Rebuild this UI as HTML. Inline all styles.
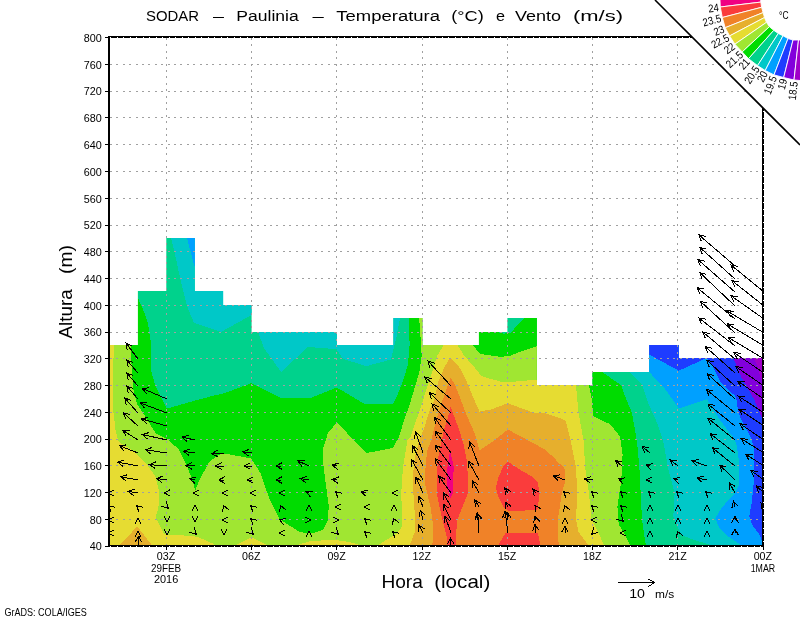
<!DOCTYPE html>
<html><head><meta charset="utf-8"><style>html,body{margin:0;padding:0;background:#fff;overflow:hidden}svg{display:block;will-change:transform}</style></head>
<body><svg width="800" height="618" viewBox="0 0 800 618">
<rect width="800" height="618" fill="#fff"/>
<defs><clipPath id="m"><polygon points="109.0,546.0 109.0,345.0 137.9,345.0 137.9,291.0 166.3,291.0 166.3,238.0 194.8,238.0 194.8,291.0 223.2,291.0 223.2,305.0 251.6,305.0 251.6,332.0 336.9,332.0 336.9,345.0 393.4,345.0 393.4,318.0 422.4,318.0 422.4,345.0 478.9,345.0 478.9,332.0 507.4,332.0 507.4,318.0 536.9,318.0 536.9,385.0 592.4,385.0 592.4,372.0 649.2,372.0 649.2,345.0 678.8,345.0 678.8,358.0 763.0,358.0 763.0,546.0"/></clipPath></defs>
<g clip-path="url(#m)" shape-rendering="crispEdges">
<polygon points="109.0,546.0 109.0,345.0 137.9,345.0 137.9,291.0 166.3,291.0 166.3,238.0 194.8,238.0 194.8,291.0 223.2,291.0 223.2,305.0 251.6,305.0 251.6,332.0 336.9,332.0 336.9,345.0 393.4,345.0 393.4,318.0 422.4,318.0 422.4,345.0 478.9,345.0 478.9,332.0 507.4,332.0 507.4,318.0 536.9,318.0 536.9,385.0 592.4,385.0 592.4,372.0 649.2,372.0 649.2,345.0 678.8,345.0 678.8,358.0 763.0,358.0 763.0,546.0" fill="rgb(0,210,140)"/>
<polygon points="109.0,546.0 109.0,280.0 137.9,280.0 137.9,298.0 145.0,314.0 148.0,324.0 150.5,340.0 150.6,369.0 155.5,386.0 161.3,398.0 167.1,408.6 190.4,401.8 213.8,395.6 225.0,393.0 251.3,383.2 281.0,398.0 310.5,398.0 336.8,387.5 364.8,404.1 392.8,404.1 397.4,395.0 403.1,380.5 408.0,364.3 409.6,345.0 409.0,318.0 409.0,300.0 496.7,300.0 496.7,332.0 503.9,333.6 510.3,333.0 524.1,318.0 524.1,300.0 602.0,300.0 602.0,372.0 621.0,385.0 625.0,396.0 632.0,413.0 637.0,441.7 639.4,467.6 640.7,493.4 642.0,519.3 645.9,546.0" fill="rgb(0,220,0)"/>
<polygon points="109.0,546.0 109.0,340.0 131.2,340.0 131.2,359.0 133.0,388.0 137.0,403.8 145.8,417.4 155.5,433.0 166.7,438.7 178.8,449.4 186.6,465.0 192.4,480.5 195.3,490.2 200.0,478.5 209.9,461.0 221.5,453.3 230.5,454.6 251.2,458.5 260.3,472.8 269.3,498.6 279.7,519.3 300.3,532.4 313.8,533.0 323.4,529.6 327.5,521.4 328.8,506.4 323.6,467.6 322.8,448.8 328.0,433.0 336.8,422.5 366.5,453.1 392.8,447.9 399.0,437.1 403.9,420.9 409.6,404.7 414.4,388.6 419.3,372.4 421.7,356.2 420.7,338.9 419.1,318.0 419.1,300.0 472.8,300.0 472.8,345.0 479.9,353.7 487.0,355.0 501.3,356.9 510.3,355.6 520.9,351.4 536.9,346.2 536.9,385.0 589.0,385.0 592.0,400.0 593.0,416.0 605.0,422.0 609.6,423.6 620.0,436.5 622.6,454.6 621.3,480.5 617.4,506.4 618.7,524.5 625.2,534.8 630.3,546.0" fill="rgb(160,230,50)"/>
<polygon points="109.0,546.0 109.0,340.0 113.7,340.0 113.7,345.0 112.8,407.7 115.7,431.0 118.6,441.7 134.0,451.4 145.8,463.0 155.5,476.6 159.4,492.0 158.4,507.7 155.5,517.4 163.3,533.0 167.1,534.9 192.4,535.8 200.0,537.9 213.8,544.0 216.0,546.0" fill="rgb(230,220,50)"/>
<polygon points="234.4,546.0 251.6,537.2 268.8,546.0" fill="rgb(230,220,50)"/>
<polygon points="293.5,546.0 310.0,541.3 327.5,540.0 341.3,540.6 355.0,543.4 362.0,546.0" fill="rgb(230,220,50)"/>
<polygon points="377.0,546.0 385.3,540.6 396.3,533.8 401.8,526.9 402.1,514.7 401.2,493.4 403.0,466.7 407.5,440.0 410.4,437.1 416.0,420.9 421.7,404.7 426.6,388.6 432.2,372.4 437.1,356.2 443.6,345.0 443.6,300.0 457.3,300.0 457.3,345.0 464.6,356.2 475.1,368.0 481.3,375.8 491.0,379.0 501.5,381.8 507.9,382.4 520.9,380.9 536.9,379.9 536.9,385.0 576.0,385.0 578.6,413.3 583.8,441.7 585.1,467.6 589.0,493.4 591.5,519.3 599.3,534.8 604.5,546.0" fill="rgb(230,220,50)"/>
<polygon points="118.5,546.0 137.3,526.5 152.5,546.0" fill="rgb(230,175,45)"/>
<polygon points="409.2,546.0 411.9,539.6 414.6,532.5 414.6,511.1 412.8,484.5 413.7,466.7 415.5,454.6 418.9,441.0 423.8,429.4 426.7,419.7 429.7,410.0 433.3,402.5 435.1,396.7 436.7,388.9 438.7,380.5 443.6,369.1 450.0,357.0 459.9,368.0 465.8,379.7 471.0,392.0 476.2,404.4 479.5,411.5 491.0,409.5 507.9,403.2 533.2,412.6 545.0,413.3 562.6,419.0 565.7,421.0 570.9,441.7 576.0,467.6 577.3,493.4 576.0,519.3 578.6,532.2 589.0,546.0" fill="rgb(230,175,45)"/>
<polygon points="432.4,546.0 433.2,525.4 430.6,507.6 425.2,484.5 425.4,469.1 426.2,459.4 427.6,449.7 431.5,439.5 434.0,429.4 436.4,419.7 440.0,409.0 442.5,400.5 445.2,392.8 447.9,385.0 450.8,377.2 455.8,386.9 459.0,395.0 462.7,404.7 465.6,412.5 470.0,423.0 473.3,430.0 476.8,440.0 479.5,450.5 493.2,441.1 507.9,429.5 533.2,443.2 545.0,449.5 554.2,457.9 557.9,462.4 564.4,467.6 565.4,480.9 561.8,493.4 557.9,519.3 557.9,540.0 560.0,546.0" fill="rgb(240,130,40)"/>
<polygon points="446.6,546.0 446.6,536.0 441.2,514.7 436.8,493.4 436.8,469.1 437.8,459.4 439.8,449.7 441.8,440.0 444.2,429.4 447.9,417.3 450.3,406.4 454.9,418.0 459.2,430.0 463.6,444.6 466.5,459.1 467.9,475.6 467.9,493.4 460.8,511.1 457.3,520.0 455.5,539.6 455.5,546.0" fill="rgb(250,60,60)"/>
<polygon points="507.6,461.4 520.9,470.2 533.4,477.4 537.8,482.7 539.6,493.4 537.8,507.6 537.0,510.3 508.5,510.8 504.0,507.6 497.8,495.2 496.0,488.0 497.8,479.1 503.1,466.7" fill="rgb(250,60,60)"/>
<polygon points="497.8,546.0 505.8,532.5 537.8,532.5 540.5,546.0" fill="rgb(250,60,60)"/>
<polygon points="450.1,450.7 453.7,466.7 452.8,493.4 450.1,498.7 446.6,484.5 447.5,466.7" fill="rgb(240,0,130)"/>
<polygon points="171.0,230.0 171.0,238.0 174.0,250.0 181.0,282.0 187.0,306.0 194.0,323.0 221.0,332.0 251.6,315.0 251.6,320.0 258.0,332.0 264.0,348.0 281.0,372.0 308.0,347.0 336.5,349.2 343.0,358.9 366.3,366.1 390.9,359.6 396.1,338.9 400.0,318.0 400.0,230.0" fill="rgb(0,200,200)"/>
<polygon points="630.0,300.0 630.0,372.0 642.0,385.0 649.0,405.0 658.0,425.0 663.0,440.0 668.0,467.6 674.6,493.4 673.3,516.7 681.0,534.8 694.0,540.0 714.6,546.0 763.0,546.0 763.0,300.0" fill="rgb(0,200,200)"/>
<polygon points="187.0,238.0 195.0,238.0 195.0,267.0 194.4,266.0" fill="rgb(0,160,255)"/>
<polygon points="649.2,300.0 649.2,372.0 665.0,389.0 674.0,401.5 679.0,408.5 707.0,399.0 713.7,410.8 720.0,420.2 727.3,429.7 734.7,439.2 736.8,445.5 738.5,457.8 739.4,484.5 734.9,493.4 727.8,500.5 720.7,509.4 715.3,518.3 718.9,527.2 727.8,536.1 738.5,543.3 742.0,546.0 763.0,546.0 763.0,300.0" fill="rgb(0,160,255)"/>
<polygon points="649.2,300.0 649.2,354.6 678.8,370.7 706.7,358.0 712.4,366.2 720.5,382.4 730.2,392.1 734.7,395.0 736.8,401.3 737.9,409.7 741.0,419.2 746.3,428.6 751.5,439.2 753.6,447.6 753.8,458.0 753.6,484.5 751.8,502.3 749.2,516.6 752.7,525.5 758.1,532.6 761.6,539.7 763.0,541.0 763.0,300.0" fill="rgb(30,60,255)"/>
<polygon points="733.4,300.0 733.4,358.0 736.7,366.2 741.5,377.5 748.0,388.8 754.5,400.2 759.3,411.5 763.0,421.3 763.0,300.0" fill="rgb(130,0,220)"/>
<polygon points="753.6,358.0 757.7,366.2 760.9,379.1 763.0,382.4 763.0,358.0" fill="rgb(160,0,200)"/>
</g>
<g stroke="#a0a0a0" stroke-width="1" stroke-dasharray="2 4.4" shape-rendering="crispEdges"><line x1="110" y1="519.5" x2="762" y2="519.5"/><line x1="110" y1="492.5" x2="762" y2="492.5"/><line x1="110" y1="465.5" x2="762" y2="465.5"/><line x1="110" y1="439.5" x2="762" y2="439.5"/><line x1="110" y1="412.5" x2="762" y2="412.5"/><line x1="110" y1="385.5" x2="762" y2="385.5"/><line x1="110" y1="358.5" x2="762" y2="358.5"/><line x1="110" y1="332.5" x2="762" y2="332.5"/><line x1="110" y1="305.5" x2="762" y2="305.5"/><line x1="110" y1="278.5" x2="762" y2="278.5"/><line x1="110" y1="251.5" x2="762" y2="251.5"/><line x1="110" y1="225.5" x2="762" y2="225.5"/><line x1="110" y1="198.5" x2="762" y2="198.5"/><line x1="110" y1="171.5" x2="762" y2="171.5"/><line x1="110" y1="144.5" x2="762" y2="144.5"/><line x1="110" y1="117.5" x2="762" y2="117.5"/><line x1="110" y1="91.5" x2="762" y2="91.5"/><line x1="110" y1="64.5" x2="762" y2="64.5"/><line x1="166.5" y1="38" x2="166.5" y2="545"/><line x1="251.5" y1="38" x2="251.5" y2="545"/><line x1="336.5" y1="38" x2="336.5" y2="545"/><line x1="422.5" y1="38" x2="422.5" y2="545"/><line x1="507.5" y1="38" x2="507.5" y2="545"/><line x1="592.5" y1="38" x2="592.5" y2="545"/><line x1="677.5" y1="38" x2="677.5" y2="545"/></g>
<rect x="109" y="37" width="653.5" height="508.5" fill="none" stroke="#000" stroke-width="2" shape-rendering="crispEdges"/>
<g stroke="#fff" stroke-width="1" stroke-dasharray="1 5.5" shape-rendering="crispEdges"><line x1="110" y1="37.5" x2="762" y2="37.5"/><line x1="110" y1="546.5" x2="762" y2="546.5"/><line x1="763.5" y1="40" x2="763.5" y2="545"/></g>
<g stroke="#000" stroke-width="1" shape-rendering="crispEdges"><line x1="105" y1="546.5" x2="108" y2="546.5"/><line x1="105" y1="519.5" x2="108" y2="519.5"/><line x1="105" y1="492.5" x2="108" y2="492.5"/><line x1="105" y1="465.5" x2="108" y2="465.5"/><line x1="105" y1="439.5" x2="108" y2="439.5"/><line x1="105" y1="412.5" x2="108" y2="412.5"/><line x1="105" y1="385.5" x2="108" y2="385.5"/><line x1="105" y1="358.5" x2="108" y2="358.5"/><line x1="105" y1="332.5" x2="108" y2="332.5"/><line x1="105" y1="305.5" x2="108" y2="305.5"/><line x1="105" y1="278.5" x2="108" y2="278.5"/><line x1="105" y1="251.5" x2="108" y2="251.5"/><line x1="105" y1="225.5" x2="108" y2="225.5"/><line x1="105" y1="198.5" x2="108" y2="198.5"/><line x1="105" y1="171.5" x2="108" y2="171.5"/><line x1="105" y1="144.5" x2="108" y2="144.5"/><line x1="105" y1="117.5" x2="108" y2="117.5"/><line x1="105" y1="91.5" x2="108" y2="91.5"/><line x1="105" y1="64.5" x2="108" y2="64.5"/><line x1="105" y1="37.5" x2="108" y2="37.5"/><line x1="166.5" y1="546" x2="166.5" y2="550"/><line x1="251.5" y1="546" x2="251.5" y2="550"/><line x1="336.5" y1="546" x2="336.5" y2="550"/><line x1="422.5" y1="546" x2="422.5" y2="550"/><line x1="507.5" y1="546" x2="507.5" y2="550"/><line x1="592.5" y1="546" x2="592.5" y2="550"/><line x1="677.5" y1="546" x2="677.5" y2="550"/><line x1="763.5" y1="546" x2="763.5" y2="550"/></g>
<g font-family="Liberation Sans, sans-serif" fill="#000"><text x="101.8" y="550.3" font-size="11.5" text-anchor="end" textLength="12" lengthAdjust="spacingAndGlyphs">40</text><text x="101.8" y="523.6" font-size="11.5" text-anchor="end" textLength="12" lengthAdjust="spacingAndGlyphs">80</text><text x="101.8" y="496.8" font-size="11.5" text-anchor="end" textLength="18" lengthAdjust="spacingAndGlyphs">120</text><text x="101.8" y="470.1" font-size="11.5" text-anchor="end" textLength="18" lengthAdjust="spacingAndGlyphs">160</text><text x="101.8" y="443.3" font-size="11.5" text-anchor="end" textLength="18" lengthAdjust="spacingAndGlyphs">200</text><text x="101.8" y="416.5" font-size="11.5" text-anchor="end" textLength="18" lengthAdjust="spacingAndGlyphs">240</text><text x="101.8" y="389.8" font-size="11.5" text-anchor="end" textLength="18" lengthAdjust="spacingAndGlyphs">280</text><text x="101.8" y="363.0" font-size="11.5" text-anchor="end" textLength="18" lengthAdjust="spacingAndGlyphs">320</text><text x="101.8" y="336.3" font-size="11.5" text-anchor="end" textLength="18" lengthAdjust="spacingAndGlyphs">360</text><text x="101.8" y="309.5" font-size="11.5" text-anchor="end" textLength="18" lengthAdjust="spacingAndGlyphs">400</text><text x="101.8" y="282.7" font-size="11.5" text-anchor="end" textLength="18" lengthAdjust="spacingAndGlyphs">440</text><text x="101.8" y="256.0" font-size="11.5" text-anchor="end" textLength="18" lengthAdjust="spacingAndGlyphs">480</text><text x="101.8" y="229.2" font-size="11.5" text-anchor="end" textLength="18" lengthAdjust="spacingAndGlyphs">520</text><text x="101.8" y="202.5" font-size="11.5" text-anchor="end" textLength="18" lengthAdjust="spacingAndGlyphs">560</text><text x="101.8" y="175.7" font-size="11.5" text-anchor="end" textLength="18" lengthAdjust="spacingAndGlyphs">600</text><text x="101.8" y="148.9" font-size="11.5" text-anchor="end" textLength="18" lengthAdjust="spacingAndGlyphs">640</text><text x="101.8" y="122.2" font-size="11.5" text-anchor="end" textLength="18" lengthAdjust="spacingAndGlyphs">680</text><text x="101.8" y="95.4" font-size="11.5" text-anchor="end" textLength="18" lengthAdjust="spacingAndGlyphs">720</text><text x="101.8" y="68.7" font-size="11.5" text-anchor="end" textLength="18" lengthAdjust="spacingAndGlyphs">760</text><text x="101.8" y="41.9" font-size="11.5" text-anchor="end" textLength="18" lengthAdjust="spacingAndGlyphs">800</text><text x="166.0" y="560" font-size="11.5" text-anchor="middle" textLength="18.4" lengthAdjust="spacingAndGlyphs">03Z</text><text x="251.3" y="560" font-size="11.5" text-anchor="middle" textLength="18.4" lengthAdjust="spacingAndGlyphs">06Z</text><text x="336.6" y="560" font-size="11.5" text-anchor="middle" textLength="18.4" lengthAdjust="spacingAndGlyphs">09Z</text><text x="421.8" y="560" font-size="11.5" text-anchor="middle" textLength="18.4" lengthAdjust="spacingAndGlyphs">12Z</text><text x="507.1" y="560" font-size="11.5" text-anchor="middle" textLength="18.4" lengthAdjust="spacingAndGlyphs">15Z</text><text x="592.3" y="560" font-size="11.5" text-anchor="middle" textLength="18.4" lengthAdjust="spacingAndGlyphs">18Z</text><text x="677.6" y="560" font-size="11.5" text-anchor="middle" textLength="18.4" lengthAdjust="spacingAndGlyphs">21Z</text><text x="762.9" y="560" font-size="11.5" text-anchor="middle" textLength="18.4" lengthAdjust="spacingAndGlyphs">00Z</text><text x="166.0" y="571.7" font-size="11.5" text-anchor="middle" textLength="30.2" lengthAdjust="spacingAndGlyphs">29FEB</text><text x="166.1" y="583" font-size="11.5" text-anchor="middle" textLength="24.3" lengthAdjust="spacingAndGlyphs">2016</text><text x="762.9" y="571.7" font-size="11.5" text-anchor="middle" textLength="24.5" lengthAdjust="spacingAndGlyphs">1MAR</text><text x="146" y="21" font-size="14" textLength="53" lengthAdjust="spacingAndGlyphs">SODAR</text><text x="213" y="21" font-size="14" textLength="11" lengthAdjust="spacingAndGlyphs">–</text><text x="236.3" y="21" font-size="14" textLength="62.5" lengthAdjust="spacingAndGlyphs">Paulinia</text><text x="312.5" y="21" font-size="14" textLength="11.3" lengthAdjust="spacingAndGlyphs">–</text><text x="336.3" y="21" font-size="14" textLength="103.7" lengthAdjust="spacingAndGlyphs">Temperatura</text><text x="451.3" y="21" font-size="14" textLength="32.5" lengthAdjust="spacingAndGlyphs">(°C)</text><text x="496" y="21" font-size="14" textLength="9" lengthAdjust="spacingAndGlyphs">e</text><text x="515" y="21" font-size="14" textLength="46" lengthAdjust="spacingAndGlyphs">Vento</text><text x="573" y="21" font-size="14" textLength="50" lengthAdjust="spacingAndGlyphs">(m/s)</text><text x="381.4" y="587.6" font-size="18.5" textLength="41.4" lengthAdjust="spacingAndGlyphs">Hora</text><text x="434.2" y="587.6" font-size="18.5" textLength="56.1" lengthAdjust="spacingAndGlyphs">(local)</text><g transform="translate(72,338.5) rotate(-90)"><text x="0" y="0" font-size="18.5" textLength="49.2" lengthAdjust="spacingAndGlyphs">Altura</text><text x="64.5" y="0" font-size="18.5" textLength="28.9" lengthAdjust="spacingAndGlyphs">(m)</text></g><text x="4.4" y="615.6" font-size="10.5" textLength="82.5" lengthAdjust="spacingAndGlyphs">GrADS: COLA/IGES</text><text x="629.2" y="597.6" font-size="12.5" textLength="15.8" lengthAdjust="spacingAndGlyphs">10</text><text x="655" y="597.6" font-size="10.8" textLength="19.2" lengthAdjust="spacingAndGlyphs">m/s</text></g>
<g stroke="#000" stroke-width="1" fill="none" shape-rendering="crispEdges"><line x1="618" y1="582.5" x2="654.6" y2="582.5"/><polyline points="648.4,579.2 654.6,582.5 648.4,586.6"/></g>
<defs><clipPath id="pa"><rect x="110" y="38" width="652" height="507"/></clipPath></defs>
<path clip-path="url(#pa)" d="M110.0 493.0L108.2 493.0M114.4 496.3L108.2 493.0L114.4 489.7M110.0 507.0L108.7 505.8M111.1 512.4L108.7 505.8L115.5 507.4M110.0 520.0L108.2 520.0M114.4 523.3L108.2 520.0L114.4 516.7M110.0 533.0L108.2 533.0M114.4 536.3L108.2 533.0L114.4 529.7M110.0 547.0L109.3 545.3M108.7 552.3L109.3 545.3L114.8 549.7M138.0 359.0L126.0 343.0M127.1 349.9L126.0 343.0L132.3 346.0M138.0 373.0L126.7 360.0M128.3 366.8L126.7 360.0L133.2 362.5M138.0 386.0L126.7 373.0M128.3 379.8L126.7 373.0L133.2 375.5M138.0 399.0L126.7 386.0M128.3 392.8L126.7 386.0L133.2 388.5M138.0 413.0L124.7 398.0M126.3 404.8L124.7 398.0L131.3 400.4M138.0 426.0L123.4 412.8M125.8 419.4L123.4 412.8L130.2 414.5M138.0 440.0L122.8 430.3M126.2 436.4L122.8 430.3L129.8 430.9M138.0 453.0L119.5 445.7M124.0 451.0L119.5 445.7L126.5 444.9M138.0 466.0L117.6 462.1M123.1 466.5L117.6 462.1L124.3 460.0M138.0 480.0L120.8 476.8M126.3 481.2L120.8 476.8L127.5 474.7M138.0 493.0L128.0 491.3M133.5 495.6L128.0 491.3L134.6 489.1M138.0 507.0L136.7 505.8M139.1 512.4L136.7 505.8L143.5 507.4M138.0 520.0L138.0 518.2M134.7 524.4L138.0 518.2L141.3 524.4M138.0 533.0L138.0 531.2M134.7 537.4L138.0 531.2L141.3 537.4M138.0 547.0L138.8 536.0M135.1 541.9L138.8 536.0L141.6 542.4M167.0 399.0L142.2 388.4M146.6 393.9L142.2 388.4L149.2 387.8M167.0 413.0L140.2 403.0M144.8 408.2L140.2 403.0L147.1 402.1M167.0 426.0L141.5 418.9M146.6 423.7L141.5 418.9L148.3 417.4M167.0 440.0L142.2 434.5M147.5 439.0L142.2 434.5L148.9 432.6M167.0 453.0L145.4 449.8M151.0 454.0L145.4 449.8L152.0 447.5M167.0 466.0L149.3 464.7M155.2 468.4L149.3 464.7L155.7 461.9M167.0 480.0L156.4 478.5M162.1 482.6L156.4 478.5L163.0 476.1M167.0 493.0L164.0 493.0M170.2 496.3L164.0 493.0L170.2 489.7M167.0 507.0L168.3 508.3M166.2 501.6L168.3 508.3L161.6 506.2M167.0 520.0L167.0 521.8M170.3 515.6L167.0 521.8L163.7 515.6M167.0 533.0L167.0 534.8M170.3 528.6L167.0 534.8L163.7 528.6M195.0 440.0L181.8 437.1M187.1 441.6L181.8 437.1L188.5 435.2M195.0 453.0L183.7 451.3M189.3 455.5L183.7 451.3L190.3 449.0M195.0 466.0L185.7 465.7M191.8 469.2L185.7 465.7L192.0 462.6M195.0 480.0L189.6 478.7M194.8 483.3L189.6 478.7L196.4 477.0M195.0 493.0L193.2 493.0M199.4 496.3L193.2 493.0L199.4 489.7M195.0 507.0L195.0 505.2M191.7 511.4L195.0 505.2L198.3 511.4M195.0 520.0L195.0 521.8M198.3 515.6L195.0 521.8L191.7 515.6M195.0 533.0L196.3 534.3M194.2 527.6L196.3 534.3L189.6 532.2M224.0 453.0L211.6 453.8M218.0 456.7L211.6 453.8L217.6 450.1M224.0 466.0L215.5 466.0M221.7 469.3L215.5 466.0L221.7 462.7M224.0 480.0L218.7 480.0M224.9 483.3L218.7 480.0L224.9 476.7M224.0 493.0L222.2 493.0M228.4 496.3L222.2 493.0L228.4 489.7M224.0 507.0L223.3 505.3M222.7 512.3L223.3 505.3L228.8 509.7M224.0 520.0L222.2 520.0M228.4 523.3L222.2 520.0L228.4 516.7M224.0 533.0L224.0 534.8M227.3 528.6L224.0 534.8L220.7 528.6M252.0 453.0L242.8 451.8M248.5 455.9L242.8 451.8L249.4 449.3M252.0 466.0L244.1 466.0M250.3 469.3L244.1 466.0L250.3 462.7M252.0 480.0L247.3 480.0M253.5 483.3L247.3 480.0L253.5 476.7M252.0 493.0L250.2 493.0M256.4 496.3L250.2 493.0L256.4 489.7M252.0 507.0L250.7 505.8M253.1 512.4L250.7 505.8L257.5 507.4M252.0 520.0L250.7 518.8M253.1 525.4L250.7 518.8L257.5 520.4M252.0 533.0L253.3 534.3M251.2 527.6L253.3 534.3L246.6 532.2M281.0 466.0L275.8 466.0M282.0 469.3L275.8 466.0L282.0 462.7M281.0 480.0L275.8 480.0M282.0 483.3L275.8 480.0L282.0 476.7M281.0 493.0L279.2 493.0M285.4 496.3L279.2 493.0L285.4 489.7M281.0 507.0L280.3 505.3M279.7 512.3L280.3 505.3L285.8 509.7M281.0 520.0L279.3 519.3M283.7 524.8L279.3 519.3L286.3 518.7M281.0 533.0L279.2 533.0M285.4 536.3L279.2 533.0L285.4 529.7M309.0 466.0L297.9 460.9M302.1 466.5L297.9 460.9L304.9 460.5M309.0 480.0L300.3 478.5M305.8 482.8L300.3 478.5L306.9 476.3M309.0 493.0L306.2 491.8M310.6 497.3L306.2 491.8L313.2 491.3M309.0 507.0L309.0 505.2M305.7 511.4L309.0 505.2L312.3 511.4M309.0 520.0L310.8 520.0M304.6 516.7L310.8 520.0L304.6 523.3M309.0 533.0L309.0 531.2M305.7 537.4L309.0 531.2L312.3 537.4M337.0 466.0L332.2 465.0M337.6 469.5L332.2 465.0L338.9 463.0M337.0 480.0L332.2 479.5M338.0 483.4L332.2 479.5L338.7 476.9M337.0 493.0L335.6 491.8M338.1 498.4L335.6 491.8L342.5 493.4M337.0 507.0L335.2 507.0M341.4 510.3L335.2 507.0L341.4 503.7M337.0 520.0L338.8 520.0M332.6 516.7L338.8 520.0L332.6 523.3M337.0 533.0L338.3 534.3M336.2 527.6L338.3 534.3L331.6 532.2M366.0 493.0L361.0 492.0M366.4 496.4L361.0 492.0L367.7 490.0M366.0 507.0L364.2 507.0M370.4 510.3L364.2 507.0L370.4 503.7M366.0 520.0L364.6 518.8M367.1 525.4L364.6 518.8L371.5 520.4M366.0 533.0L364.6 531.8M367.1 538.4L364.6 531.8L371.5 533.4M366.0 547.0L366.0 545.2M362.7 551.4L366.0 545.2L369.3 551.4M394.0 493.0L392.2 493.0M398.4 496.3L392.2 493.0L398.4 489.7M394.0 507.0L394.0 505.2M390.7 511.4L394.0 505.2L397.3 511.4M394.0 520.0L393.3 518.3M392.7 525.3L393.3 518.3L398.8 522.7M394.0 533.0L392.6 531.8M395.1 538.4L392.6 531.8L399.5 533.4M423.0 453.0L415.5 431.8M414.5 438.7L415.5 431.8L420.7 436.5M423.0 466.0L412.5 445.7M412.4 452.7L412.5 445.7L418.3 449.7M423.0 480.0L411.6 459.7M411.8 466.7L411.6 459.7L417.5 463.5M423.0 493.0L416.0 477.1M415.5 484.1L416.0 477.1L421.5 481.4M423.0 507.0L418.7 496.4M418.0 503.4L418.7 496.4L424.1 500.9M423.0 520.0L420.5 510.3M418.9 517.1L420.5 510.3L425.2 515.5M423.0 533.0L418.7 525.0M418.7 532.0L418.7 525.0L424.5 528.9M451.0 386.0L428.0 361.0M429.8 367.8L428.0 361.0L434.6 363.3M451.0 399.0L424.8 377.0M427.4 383.5L424.8 377.0L431.6 378.5M451.0 413.0L429.3 392.7M431.6 399.3L429.3 392.7L436.1 394.5M451.0 426.0L432.1 403.9M433.6 410.7L432.1 403.9L438.6 406.5M451.0 440.0L434.5 417.5M435.5 424.4L434.5 417.5L440.8 420.5M451.0 453.0L435.3 431.0M436.2 437.9L435.3 431.0L441.6 434.1M451.0 466.0L435.2 445.0M436.3 451.9L435.2 445.0L441.5 448.0M451.0 480.0L435.2 458.8M436.3 465.7L435.2 458.8L441.5 461.8M451.0 493.0L438.8 476.2M439.8 483.1L438.8 476.2L445.1 479.3M451.0 507.0L443.3 492.9M443.4 499.9L443.3 492.9L449.1 496.7M451.0 520.0L443.3 504.1M443.0 511.1L443.3 504.1L449.0 508.2M451.0 533.0L445.0 516.1M444.0 523.0L445.0 516.1L450.2 520.8M451.0 547.0L450.4 538.1M447.5 544.5L450.4 538.1L454.1 544.0M479.0 466.0L469.6 442.2M468.8 449.2L469.6 442.2L474.9 446.7M479.0 480.0L468.7 461.5M468.8 468.5L468.7 461.5L474.6 465.3M479.0 493.0L472.3 480.7M472.4 487.7L472.3 480.7L478.1 484.6M479.0 507.0L474.9 500.0M475.2 507.0L474.9 500.0L480.9 503.7M479.0 520.0L477.0 513.0M475.5 519.8L477.0 513.0L481.9 518.0M479.0 533.0L477.5 513.0M474.7 519.4L477.5 513.0L481.2 518.9M508.0 493.0L504.8 488.0M505.4 495.0L504.8 488.0L510.9 491.4M508.0 507.0L506.0 502.2M505.3 509.2L506.0 502.2L511.4 506.6M508.0 520.0L507.0 512.0M504.5 518.5L507.0 512.0L511.0 517.7M508.0 533.0L505.0 511.0M502.6 517.6L505.0 511.0L509.1 516.7M536.0 493.0L532.8 489.0M534.1 495.9L532.8 489.0L539.2 491.8M536.0 507.0L535.0 505.4M535.5 512.4L535.0 505.4L541.1 508.9M536.0 520.0L535.0 516.6M533.6 523.5L535.0 516.6L539.9 521.6M536.0 533.0L535.0 524.6M532.5 531.1L535.0 524.6L539.0 530.3M565.0 480.0L553.4 475.7M558.1 480.9L553.4 475.7L560.3 474.8M565.0 493.0L563.6 491.8M566.1 498.4L563.6 491.8L570.5 493.4M565.0 507.0L564.3 505.3M563.7 512.3L564.3 505.3L569.8 509.7M565.0 520.0L565.0 518.2M561.7 524.4L565.0 518.2L568.3 524.4M565.0 533.0L565.0 526.0M561.7 532.2L565.0 526.0L568.3 532.2M565.0 547.0L565.0 545.2M561.7 551.4L565.0 545.2L568.3 551.4M593.0 480.0L584.6 479.0M590.3 483.0L584.6 479.0L591.1 476.5M593.0 493.0L591.6 491.8M594.1 498.4L591.6 491.8L598.5 493.4M593.0 507.0L591.6 505.8M594.1 512.4L591.6 505.8L598.5 507.4M593.0 520.0L591.2 520.0M597.4 523.3L591.2 520.0L597.4 516.7M593.0 533.0L591.7 534.3M598.4 532.2L591.7 534.3L593.8 527.6M593.0 547.0L593.0 545.2M589.7 551.4L593.0 545.2L596.3 551.4M622.0 466.0L615.6 460.5M618.1 467.0L615.6 460.5L622.4 462.0M622.0 480.0L618.5 478.6M623.0 483.9L618.5 478.6L625.5 477.8M622.0 493.0L620.6 491.8M623.1 498.4L620.6 491.8L627.5 493.4M622.0 507.0L620.6 505.8M623.1 512.4L620.6 505.8L627.5 507.4M622.0 520.0L623.3 521.3M621.2 514.6L623.3 521.3L616.6 519.2M622.0 533.0L620.2 533.0M626.4 536.3L620.2 533.0L626.4 529.7M650.0 453.0L642.1 446.5M644.8 453.0L642.1 446.5L649.0 447.9M650.0 466.0L646.3 464.5M650.8 469.9L646.3 464.5L653.3 463.8M650.0 480.0L646.2 480.0M652.4 483.3L646.2 480.0L652.4 476.7M650.0 493.0L648.6 491.8M651.1 498.4L648.6 491.8L655.5 493.4M650.0 507.0L650.0 505.2M646.7 511.4L650.0 505.2L653.3 511.4M650.0 520.0L650.0 518.2M646.7 524.4L650.0 518.2L653.3 524.4M650.0 533.0L650.0 531.2M646.7 537.4L650.0 531.2L653.3 537.4M678.0 466.0L670.1 459.8M672.9 466.2L670.1 459.8L677.0 461.0M678.0 480.0L673.5 478.8M678.6 483.6L673.5 478.8L680.3 477.2M678.0 493.0L676.6 491.8M679.1 498.4L676.6 491.8L683.5 493.4M678.0 507.0L678.0 505.2M674.7 511.4L678.0 505.2L681.3 511.4M678.0 520.0L678.0 518.2M674.7 524.4L678.0 518.2L681.3 524.4M678.0 533.0L677.3 531.3M676.7 538.3L677.3 531.3L682.8 535.7M707.0 466.0L691.8 460.6M696.5 465.8L691.8 460.6L698.7 459.6M707.0 480.0L697.0 478.0M702.4 482.4L697.0 478.0L703.7 476.0M707.0 493.0L705.6 491.8M708.1 498.4L705.6 491.8L712.5 493.4M707.0 507.0L707.0 505.2M703.7 511.4L707.0 505.2L710.3 511.4M707.0 520.0L707.0 518.2M703.7 524.4L707.0 518.2L710.3 524.4M707.0 533.0L707.0 531.2M703.7 537.4L707.0 531.2L710.3 537.4M735.0 266.0L698.8 234.8M701.3 241.3L698.8 234.8L705.6 236.3M735.0 279.0L699.8 247.4M702.2 254.0L699.8 247.4L706.6 249.1M735.0 292.0L697.8 259.5M700.3 266.0L697.8 259.5L704.6 261.1M735.0 306.0L699.8 272.6M702.0 279.2L699.8 272.6L706.5 274.5M735.0 319.0L697.3 287.7M700.0 294.2L697.3 287.7L704.2 289.1M735.0 333.0L700.3 301.3M702.6 307.9L700.3 301.3L707.1 303.0M735.0 346.0L698.8 317.9M701.7 324.3L698.8 317.9L705.7 319.1M735.0 359.0L702.8 332.0M705.4 338.5L702.8 332.0L709.6 333.5M735.0 373.0L705.3 346.6M707.7 353.2L705.3 346.6L712.1 348.2M735.0 386.0L706.8 360.2M709.1 366.8L706.8 360.2L713.6 361.9M735.0 399.0L707.3 373.8M709.7 380.4L707.3 373.8L714.1 375.5M735.0 413.0L706.3 389.4M709.0 395.9L706.3 389.4L713.2 390.8M735.0 426.0L707.9 404.1M710.6 410.5L707.9 404.1L714.8 405.4M735.0 440.0L707.9 418.2M710.7 424.6L707.9 418.2L714.8 419.5M735.0 453.0L710.1 433.6M713.0 440.0L710.1 433.6L717.0 434.8M735.0 466.0L712.4 447.8M715.2 454.2L712.4 447.8L719.3 449.1M735.0 480.0L719.8 465.2M721.9 471.9L719.8 465.2L726.5 467.2M735.0 493.0L729.3 482.7M729.4 489.7L729.3 482.7L735.2 486.5M735.0 507.0L733.5 501.2M731.9 508.0L733.5 501.2L738.2 506.4M735.0 520.0L735.0 516.6M731.7 522.8L735.0 516.6L738.3 522.8M735.0 533.0L735.0 528.8M731.7 535.0L735.0 528.8L738.3 535.0M735.0 547.0L735.0 545.2M731.7 551.4L735.0 545.2L738.3 551.4M764.0 292.0L731.0 265.0M733.7 271.5L731.0 265.0L737.9 266.4M764.0 306.0L732.0 280.6M734.8 287.0L732.0 280.6L738.9 281.9M764.0 319.0L730.9 295.7M734.1 301.9L730.9 295.7L737.8 296.6M764.0 333.0L726.9 310.8M730.5 316.8L726.9 310.8L733.9 311.2M764.0 346.0L727.4 323.9M731.0 329.9L727.4 323.9L734.4 324.3M764.0 359.0L728.4 337.5M732.0 343.5L728.4 337.5L735.4 337.9M764.0 373.0L733.9 352.6M737.2 358.8L733.9 352.6L740.9 353.3M764.0 386.0L735.9 366.7M739.1 372.9L735.9 366.7L742.9 367.5M764.0 399.0L737.9 381.3M741.2 387.5L737.9 381.3L744.9 382.0M764.0 413.0L738.3 396.0M741.6 402.2L738.3 396.0L745.3 396.7M764.0 426.0L738.8 409.1M742.1 415.3L738.8 409.1L745.8 409.8M764.0 440.0L740.0 423.8M743.3 430.0L740.0 423.8L747.0 424.5M764.0 453.0L741.1 438.7M744.6 444.8L741.1 438.7L748.1 439.2M764.0 466.0L745.6 454.1M749.0 460.2L745.6 454.1L752.6 454.7M764.0 480.0L750.9 470.5M754.0 476.8L750.9 470.5L757.8 471.5M764.0 493.0L756.2 485.9M758.6 492.5L756.2 485.9L763.0 487.6M764.0 507.0L761.0 503.0M762.1 509.9L761.0 503.0L767.3 506.0M764.0 520.0L762.6 518.8M765.1 525.4L762.6 518.8L769.5 520.4M764.0 533.0L762.6 531.8M765.1 538.4L762.6 531.8L769.5 533.4" fill="none" stroke="#000" stroke-width="1" shape-rendering="crispEdges"/>
<polygon points="655,0 800,0 800,145" fill="#fff"/>
<line x1="655" y1="0" x2="800" y2="145" stroke="#000" stroke-width="1.6"/>
<polygon points="719.6,-8.0 720.3,7.0 760.8,2.1 760.5,-8.0" fill="rgb(240,0,130)" stroke="#fff" stroke-width="0.9"/><polygon points="720.3,7.0 722.3,17.5 761.6,7.3 760.8,2.1" fill="rgb(250,60,60)" stroke="#fff" stroke-width="0.9"/><polygon points="722.3,17.5 725.2,27.7 763.1,12.6 761.6,7.3" fill="rgb(240,130,40)" stroke="#fff" stroke-width="0.9"/><polygon points="725.2,27.7 729.6,35.9 764.5,17.5 763.1,12.6" fill="rgb(230,175,45)" stroke="#fff" stroke-width="0.9"/><polygon points="729.6,35.9 734.9,44.2 766.5,22.3 764.5,17.5" fill="rgb(230,220,50)" stroke="#fff" stroke-width="0.9"/><polygon points="734.9,44.2 742.2,51.9 769.4,26.7 766.5,22.3" fill="rgb(160,230,50)" stroke="#fff" stroke-width="0.9"/><polygon points="742.2,51.9 748.5,58.7 773.8,30.3 769.4,26.7" fill="rgb(0,220,0)" stroke="#fff" stroke-width="0.9"/><polygon points="748.5,58.7 757.5,65.6 778.3,33.5 773.8,30.3" fill="rgb(0,210,140)" stroke="#fff" stroke-width="0.9"/><polygon points="757.5,65.6 765.2,70.5 783.0,35.7 778.3,33.5" fill="rgb(0,200,200)" stroke="#fff" stroke-width="0.9"/><polygon points="765.2,70.5 774.0,74.9 788.0,38.6 783.0,35.7" fill="rgb(0,160,255)" stroke="#fff" stroke-width="0.9"/><polygon points="774.0,74.9 783.7,77.5 793.0,40.0 788.0,38.6" fill="rgb(30,60,255)" stroke="#fff" stroke-width="0.9"/><polygon points="783.7,77.5 794.0,80.0 798.5,40.0 793.0,40.0" fill="rgb(130,0,220)" stroke="#fff" stroke-width="0.9"/><polygon points="794.0,80.0 806.0,81.0 806.0,40.0 798.5,40.0" fill="rgb(160,0,200)" stroke="#fff" stroke-width="0.9"/><text transform="translate(718.8,7.2) rotate(-6.9)" x="0" y="4" text-anchor="end" font-family="Liberation Sans, sans-serif" font-size="11" textLength="10.6" lengthAdjust="spacingAndGlyphs">24</text><text transform="translate(720.8,17.9) rotate(-14.5)" x="0" y="4" text-anchor="end" font-family="Liberation Sans, sans-serif" font-size="11" textLength="18.7" lengthAdjust="spacingAndGlyphs">23.5</text><text transform="translate(723.8,28.3) rotate(-21.7)" x="0" y="4" text-anchor="end" font-family="Liberation Sans, sans-serif" font-size="11" textLength="10.6" lengthAdjust="spacingAndGlyphs">23</text><text transform="translate(728.3,36.6) rotate(-27.8)" x="0" y="4" text-anchor="end" font-family="Liberation Sans, sans-serif" font-size="11" textLength="18.7" lengthAdjust="spacingAndGlyphs">22.5</text><text transform="translate(733.7,45.1) rotate(-34.7)" x="0" y="4" text-anchor="end" font-family="Liberation Sans, sans-serif" font-size="11" textLength="10.6" lengthAdjust="spacingAndGlyphs">22</text><text transform="translate(741.1,52.9) rotate(-42.8)" x="0" y="4" text-anchor="end" font-family="Liberation Sans, sans-serif" font-size="11" textLength="18.7" lengthAdjust="spacingAndGlyphs">21.5</text><text transform="translate(747.5,59.8) rotate(-48.3)" x="0" y="4" text-anchor="end" font-family="Liberation Sans, sans-serif" font-size="11" textLength="10.6" lengthAdjust="spacingAndGlyphs">21</text><text transform="translate(756.7,66.9) rotate(-57.1)" x="0" y="4" text-anchor="end" font-family="Liberation Sans, sans-serif" font-size="11" textLength="18.7" lengthAdjust="spacingAndGlyphs">20.5</text><text transform="translate(764.5,71.8) rotate(-62.9)" x="0" y="4" text-anchor="end" font-family="Liberation Sans, sans-serif" font-size="11" textLength="10.6" lengthAdjust="spacingAndGlyphs">20</text><text transform="translate(773.5,76.3) rotate(-68.9)" x="0" y="4" text-anchor="end" font-family="Liberation Sans, sans-serif" font-size="11" textLength="18.7" lengthAdjust="spacingAndGlyphs">19.5</text><text transform="translate(783.3,79.0) rotate(-76.1)" x="0" y="4" text-anchor="end" font-family="Liberation Sans, sans-serif" font-size="11" textLength="10.6" lengthAdjust="spacingAndGlyphs">19</text><text transform="translate(793.8,81.5) rotate(-83.6)" x="0" y="4" text-anchor="end" font-family="Liberation Sans, sans-serif" font-size="11" textLength="18.7" lengthAdjust="spacingAndGlyphs">18.5</text><text x="779" y="19.4" font-family="Liberation Sans, sans-serif" font-size="11" textLength="9.5" lengthAdjust="spacingAndGlyphs">°C</text>
</svg></body></html>
